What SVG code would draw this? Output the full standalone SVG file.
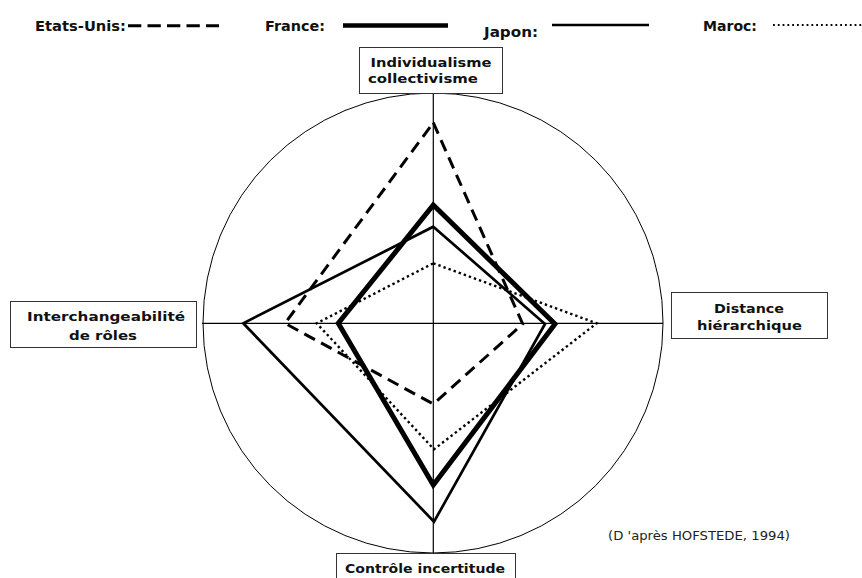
<svg xmlns="http://www.w3.org/2000/svg" width="862" height="578" viewBox="0 0 862 578">
<style>
.lg{font-family:"DejaVu Sans",Verdana,sans-serif;font-weight:bold;font-size:14px;fill:#111}
.lb{font-family:"DejaVu Sans",Verdana,sans-serif;font-weight:bold;font-size:13px;fill:#111;text-anchor:middle}
.box{fill:#fff;stroke:#333;stroke-width:1}
.axis{stroke:#000;stroke-width:1.2;fill:none}
.poly{fill:none;stroke:#000;stroke-linejoin:miter;stroke-miterlimit:10}
.us{stroke-width:3;stroke-dasharray:12 7}
.fr{stroke-width:5}
.jp{stroke-width:2.7}
.ma{stroke-width:2.4;stroke-dasharray:2.4 3}
</style>
<rect width="862" height="578" fill="#fff"/>
<g id="legend">
<text class="lg" x="35" y="31" textLength="91" lengthAdjust="spacingAndGlyphs">Etats-Unis:</text>
<line x1="128" y1="25.7" x2="219" y2="25.7" stroke="#000" stroke-width="3" stroke-dasharray="13.3 6.2"/>
<text class="lg" x="265" y="31" textLength="60" lengthAdjust="spacingAndGlyphs">France:</text>
<line x1="343" y1="25.5" x2="448" y2="25.5" stroke="#000" stroke-width="4.6"/>
<text class="lg" x="484" y="37" textLength="54" lengthAdjust="spacingAndGlyphs">Japon:</text>
<line x1="552" y1="25" x2="649" y2="25" stroke="#000" stroke-width="2.6"/>
<text class="lg" x="703" y="30.5" textLength="54" lengthAdjust="spacingAndGlyphs">Maroc:</text>
<line x1="773" y1="25" x2="862" y2="25" stroke="#000" stroke-width="2" stroke-dasharray="1.8 3"/>
</g>
<g id="frame">
<circle cx="433" cy="323" r="230" fill="none" stroke="#000" stroke-width="1"/>
<line class="axis" x1="433.3" y1="93" x2="433.3" y2="553"/>
<line class="axis" x1="202" y1="323.3" x2="663" y2="323.3"/>
</g>
<g id="connectors">
<polygon id="etats-unis" class="poly us" points="433.3,122.7 522.7,324 433.3,404 285,323.3"/>
<polygon id="france" class="poly fr" points="433.3,205 555,324 433.3,485 338.3,323.3"/>
<polygon id="japon" class="poly jp" points="433.3,226.7 545,324 434,521.7 243.3,323.3"/>
<polygon id="maroc" class="poly ma" points="433.3,263.3 596.7,323.3 434,449.3 316.7,323.3"/>
</g>
<g id="node-individualisme">
<rect class="box" x="359.5" y="47.5" width="143" height="46"/>
<text class="lb" x="431" y="67" textLength="121" lengthAdjust="spacingAndGlyphs">Individualisme</text>
<text class="lb" x="423" y="83" textLength="110" lengthAdjust="spacingAndGlyphs">collectivisme</text>
</g>
<g id="node-interchangeabilite">
<rect class="box" x="10.5" y="301.5" width="186" height="46"/>
<text class="lb" x="106" y="321" textLength="158" lengthAdjust="spacingAndGlyphs">Interchangeabilité</text>
<text class="lb" x="103" y="339.5" textLength="68" lengthAdjust="spacingAndGlyphs">de rôles</text>
</g>
<g id="node-distance">
<rect class="box" x="671.5" y="292.5" width="156" height="46"/>
<text class="lb" x="749" y="312.5" textLength="70" lengthAdjust="spacingAndGlyphs">Distance</text>
<text class="lb" x="749.5" y="329.5" textLength="105" lengthAdjust="spacingAndGlyphs">hiérarchique</text>
</g>
<g id="node-controle">
<rect class="box" x="336.5" y="553.5" width="179" height="40"/>
<text class="lb" x="425" y="573" textLength="160" lengthAdjust="spacingAndGlyphs">Contrôle incertitude</text>
</g>
<g id="source">
<text x="608" y="540" font-family="'DejaVu Sans',sans-serif" font-size="12" fill="#222" textLength="182" lengthAdjust="spacingAndGlyphs">(D 'après HOFSTEDE, 1994)</text>
</g>
</svg>
